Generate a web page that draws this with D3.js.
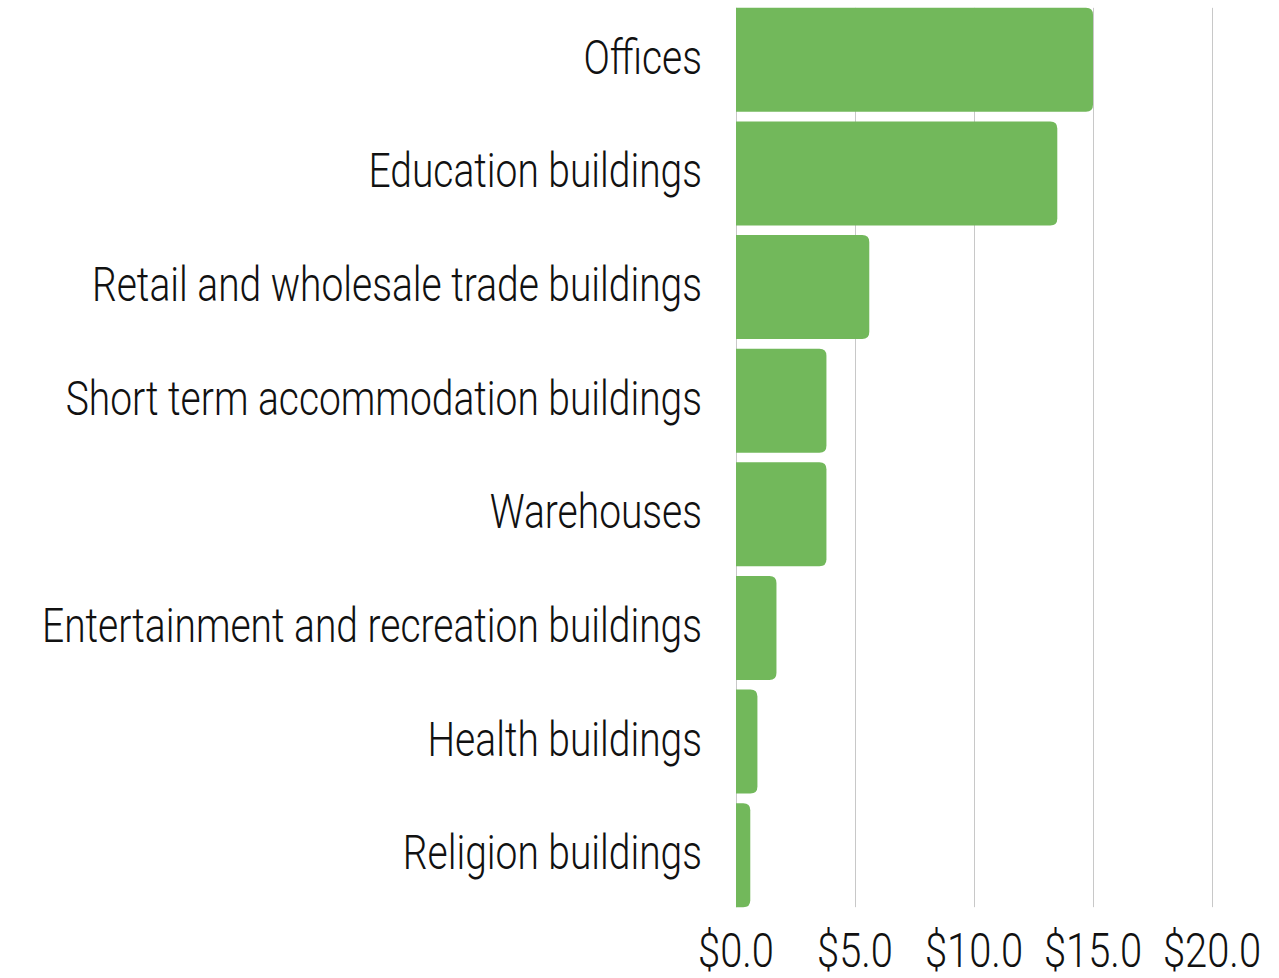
<!DOCTYPE html>
<html lang="en">
<head>
    <meta charset="UTF-8">
    <title>building values</title>
    <script src="https://cdn.jsdelivr.net/npm/d3@7"></script>
    <style>
        body { margin: 0; background: #fff; }
        text { font-family: Roboto, "Liberation Sans", sans-serif; font-weight: 300; fill: #111; }
        line.grid { stroke: #c8c8c8; stroke-width: 1px; }
        path.bar { fill: #72b85b; }
    </style>
</head>
<body>
<svg width="1279" height="978"></svg>
<script>
    // values in $
    let categories = ["Offices", "Education buildings", "Retail and wholesale trade buildings",
        "Short term accommodation buildings", "Warehouses", "Entertainment and recreation buildings",
        "Health buildings", "Religion buildings"]
    let values = [15.0, 13.5, 5.6, 3.8, 3.8, 1.7, 0.9, 0.6]
    let ticks = [0, 5, 10, 15, 20]

    let svg = d3.select('svg')
    let xScale = d3.scaleLinear().domain([0, 20]).range([736, 1212])
    let yScale = d3.scaleBand().domain(categories).range([3, 912]).paddingInner(0.085).paddingOuter(0.0425)

    let plotTop = yScale(categories[0])
    let plotBottom = yScale(categories[categories.length - 1]) + yScale.bandwidth()

    // gridlines
    svg.append('g').selectAll('line').data(ticks).join('line')
        .attr('class', 'grid')
        .attr('x1', d => Math.round(xScale(d)) + 0.5).attr('x2', d => Math.round(xScale(d)) + 0.5)
        .attr('y1', plotTop).attr('y2', plotBottom)

    // bars, rounded on the right end only
    let r = 7
    function barPath(d, i) {
        let x0 = xScale(0), x1 = xScale(d), y0 = yScale(categories[i]), h = yScale.bandwidth()
        let rr = Math.min(r, (x1 - x0) / 2)
        return "M" + x0 + "," + y0 + "H" + (x1 - rr) + "Q" + x1 + "," + y0 + " " + x1 + "," + (y0 + rr)
            + "V" + (y0 + h - rr) + "Q" + x1 + "," + (y0 + h) + " " + (x1 - rr) + "," + (y0 + h)
            + "H" + x0 + "Z"
    }
    svg.append('g').selectAll('path').data(values).join('path')
        .attr('class', 'bar')
        .attr('d', barPath)

    // the original uses a narrow face; squeeze the installed one to the same widths
    function squeeze(sel, refWidth) {
        let widths = []
        sel.each(function () { widths.push(this.getComputedTextLength()) })
        let k = refWidth / d3.max(widths)
        sel.each(function (d, i) {
            d3.select(this).attr('textLength', widths[i] * k).attr('lengthAdjust', 'spacingAndGlyphs')
        })
    }

    // category labels
    let labels = svg.append('g').selectAll('text').data(categories).join('text')
        .attr('x', 702)
        .attr('y', d => yScale(d) + yScale.bandwidth() / 2 + 14)
        .attr('text-anchor', 'end')
        .style('font-size', '49px')
        .text(d => d)
    squeeze(labels, 660)

    // x axis labels
    let fmt = d => "$" + d3.format(".1f")(d)
    let tickLabels = svg.append('g').selectAll('text').data(ticks).join('text')
        .attr('x', d => xScale(d))
        .attr('y', 967)
        .attr('text-anchor', 'middle')
        .style('font-size', '48px')
        .text(fmt)
    squeeze(tickLabels, 98)
</script>
</body>
</html>
